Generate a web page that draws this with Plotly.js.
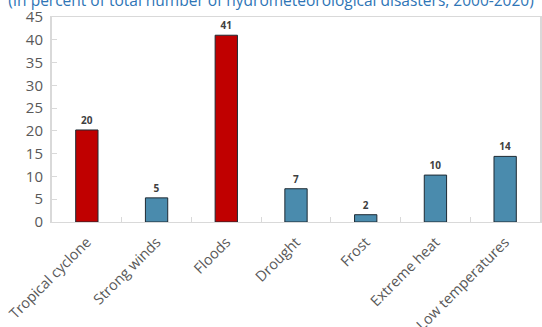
<!DOCTYPE html>
<html>
<head>
<meta charset="utf-8">
<script src="https://cdn.plot.ly/plotly-3.0.1.min.js"></script>
<style>html,body{margin:0;padding:0;background:#fff;}#chart{width:542px;height:327px;}</style>
</head>
<body>
<div id="chart"></div>
<script>
const categories = ["Tropical cyclone", "Strong winds", "Floods", "Drought", "Frost", "Extreme heat", "Low temperatures"];
const values = [20.2, 5.3, 41.0, 7.3, 1.6, 10.3, 14.4];
const labels = ["20", "5", "41", "7", "2", "10", "14"];
const highlight = [true, false, true, false, false, false, false];
const yTicks = [0, 5, 10, 15, 20, 25, 30, 35, 40, 45];

const colors = highlight.map(h => h ? "#C00000" : "#4A8BAD");

const trace = {
  type: "bar",
  x: categories,
  y: values,
  text: labels,
  textposition: "outside",
  cliponaxis: false,
  textfont: {family: "Open Sans", size: 10, color: "#404040", weight: "bold"},
  marker: {color: colors, line: {color: "#1e2a33", width: 1}},
  width: 0.32,
  hoverinfo: "skip"
};

const layout = {
  width: 542, height: 327,
  margin: {l: 52, r: 2, t: 17, b: 105},
  paper_bgcolor: "#fff", plot_bgcolor: "#fff",
  showlegend: false,
  title: {
    text: "(In percent of total number of hydrometeorological disasters, 2000-2020)",
    font: {family: "Open Sans", size: 15.5, color: "#2E75B6"},
    x: 0.5, xanchor: "center",
    yref: "container", y: 1 - 0.5/327, yanchor: "middle"
  },
  xaxis: {
    type: "category",
    tickangle: -45,
    tickfont: {family: "Open Sans", size: 14.5, color: "#595959"},
    ticklabelstandoff: 5,
    ticks: "inside", tickson: "boundaries", ticklen: 5, tickcolor: "#d9d9d9",
    showline: true, linecolor: "#d9d9d9", linewidth: 1, mirror: true,
    showgrid: false, zeroline: false
  },
  yaxis: {
    range: [0, 45],
    tickvals: yTicks,
    tickfont: {family: "Open Sans", size: 15, color: "#595959"},
    ticklabelstandoff: 4,
    ticks: "inside", ticklen: 5, tickcolor: "#d9d9d9",
    showline: true, linecolor: "#d9d9d9", linewidth: 2, mirror: true,
    showgrid: false, zeroline: false
  }
};

Plotly.newPlot("chart", [trace], layout, {staticPlot: true, displayModeBar: false});
</script>
</body>
</html>
